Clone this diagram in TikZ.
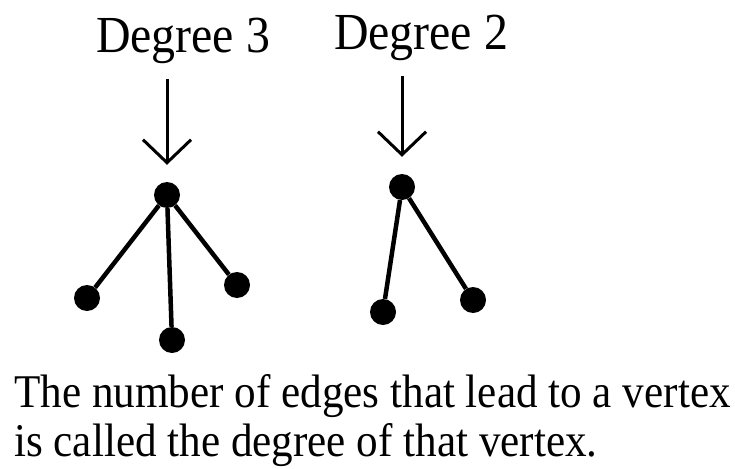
\documentclass[tikz,border=0pt]{standalone}
\usepackage{fontspec}
\setmainfont[FakeStretch=0.92]{Liberation Serif}
\usetikzlibrary{arrows.meta,positioning}
\tikzset{
  vert/.style={circle,fill=black,inner sep=0pt,minimum size=26pt},
  lbl/.style={font=\fontsize{52}{52}\selectfont,inner sep=0pt},
  caption/.style={font=\fontsize{46.9}{47}\selectfont,inner sep=0pt},
  edge/.style={line width=4.5pt},
  pointer/.style={line width=3pt,-{Straight Barb[length=23pt,width=48pt,line width=3pt]},shorten <=15pt,shorten >=17pt}
}
\begin{document}
\begin{tikzpicture}[x=1pt,y=-1pt]
\useasboundingbox (0,0) rectangle (735,468);
% labels on top
\node[lbl,anchor=base] (deg3) at (183,53) {Degree 3};
\node[lbl,anchor=base] (deg2) at (421,50) {Degree 2};
% degree 3 vertex
\node[vert] (hub3) at (167,195) {};
\node[vert] (a1) at (87,298) {};
\node[vert] (a2) at (172,340) {};
\node[vert] (a3) at (237,285) {};
\foreach \l in {a1,a2,a3}{\draw[edge] (hub3) -- (\l);}
% degree 2 vertex
\node[vert] (hub2) at (402,187) {};
\node[vert] (b1) at (383,312) {};
\node[vert] (b2) at (473,300) {};
\foreach \l in {b1,b2}{\draw[edge] (hub2) -- (\l);}
% arrows
\draw[pointer] (deg3.south -| hub3) -- (hub3);
\draw[pointer] (deg2.south -| hub2) -- (hub2);
% caption
\node[caption,anchor=base west] (cap1) at (14,407) {The number of edges that lead to a vertex};
\node[caption,anchor=base west] (cap2) at (14,456) {is called the degree of that vertex.};
\end{tikzpicture}
\end{document}
